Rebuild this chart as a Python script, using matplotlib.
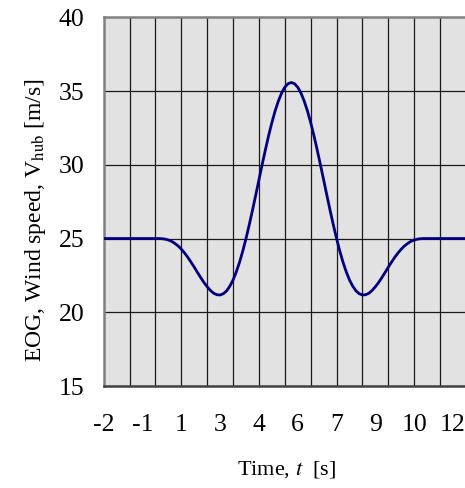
import matplotlib
matplotlib.use('Agg')
import matplotlib.pyplot as plt

# EOG hub wind speed (s, m/s)
time = [-2.0,
        0.0, 0.125, 0.25, 0.375, 0.5, 0.625, 0.75, 0.875,
        1.0, 1.125, 1.25, 1.375, 1.5, 1.625, 1.75, 1.875,
        2.0, 2.125, 2.25, 2.375, 2.5, 2.625, 2.75, 2.875,
        3.0, 3.125, 3.25, 3.375, 3.5, 3.625, 3.75, 3.875,
        4.0, 4.125, 4.25, 4.375, 4.5, 4.625, 4.75, 4.875,
        5.0, 5.125, 5.25, 5.375, 5.5, 5.625, 5.75, 5.875,
        6.0, 6.125, 6.25, 6.375, 6.5, 6.625, 6.75, 6.875,
        7.0, 7.125, 7.25, 7.375, 7.5, 7.625, 7.75, 7.875,
        8.0, 8.125, 8.25, 8.375, 8.5, 8.625, 8.75, 8.875,
        9.0, 9.125, 9.25, 9.375, 9.5, 9.625, 9.75, 9.875,
        10.0, 10.125, 10.25, 10.375, 10.5,
        12.0]
speed = [25.0,
         25.00, 25.00, 24.99, 24.96, 24.90, 24.81, 24.67, 24.50,
         24.28, 24.02, 23.73, 23.40, 23.06, 22.70, 22.35, 22.02,
         21.73, 21.48, 21.29, 21.19, 21.17, 21.26, 21.45, 21.77,
         22.19, 22.74, 23.39, 24.15, 25.00, 25.93, 26.91, 27.94,
         28.98, 30.02, 31.02, 31.98, 32.86, 33.65, 34.32, 34.86,
         35.26, 35.50, 35.58, 35.50, 35.26, 34.86, 34.32, 33.65,
         32.86, 31.98, 31.02, 30.02, 28.98, 27.94, 26.91, 25.93,
         25.00, 24.15, 23.39, 22.74, 22.19, 21.77, 21.45, 21.26,
         21.17, 21.19, 21.29, 21.48, 21.73, 22.02, 22.35, 22.70,
         23.06, 23.40, 23.73, 24.02, 24.28, 24.50, 24.67, 24.81,
         24.90, 24.96, 24.99, 25.00, 25.00,
         25.0]

xtick_pos = [-2, -0.5, 1, 2.5, 4, 5.5, 7, 8.5, 10, 11.5]
xtick_lab = ['-2', '-1', '1', '3', '4', '6', '7', '9', '10', '12']
ytick_pos = [15, 20, 25, 30, 35, 40]
xgrid = list(range(-1, 12))
ygrid = [20, 25, 30, 35]

plt.rcParams['font.family'] = 'Liberation Serif'
plt.rcParams['mathtext.fontset'] = 'stix'

fig = plt.figure(figsize=(4.65, 4.88), dpi=100)
ax = fig.add_axes([0.223, 0.209, 0.779, 0.7555])
ax.set_facecolor('#e2e2e2')

for g in xgrid:
    ax.axvline(g, color='#1a1a1a', lw=0.9, zorder=1)
for g in ygrid:
    ax.axhline(g, color='#1a1a1a', lw=0.9, zorder=1)

ax.plot(time, speed, color='#000080', lw=2.0, zorder=3,
        solid_joinstyle='round', solid_capstyle='round')

ax.set_xlim(-2, 12)
ax.set_ylim(15, 40)
ax.set_xticks(xtick_pos)
ax.set_xticklabels(xtick_lab)
ax.set_yticks(ytick_pos)
ax.tick_params(axis='x', length=0, pad=20, labelsize=18.5)
ax.tick_params(axis='y', length=0, pad=14, labelsize=18.5)

for s in ['left', 'top']:
    ax.spines[s].set_color('#808080')
    ax.spines[s].set_linewidth(1.8)
ax.spines['bottom'].set_color('#404040')
ax.spines['bottom'].set_linewidth(1.8)
ax.spines['right'].set_visible(False)

ax.set_xlabel('Time, $t$  [s]', fontsize=16)
ax.xaxis.set_label_coords(0.506, -0.198)
ax.set_ylabel('EOG, Wind speed, V$_{\\mathrm{hub}}$ [m/s]', fontsize=17)
ax.yaxis.set_label_coords(-0.154, 0.45)

plt.savefig('out.png', dpi=100)
